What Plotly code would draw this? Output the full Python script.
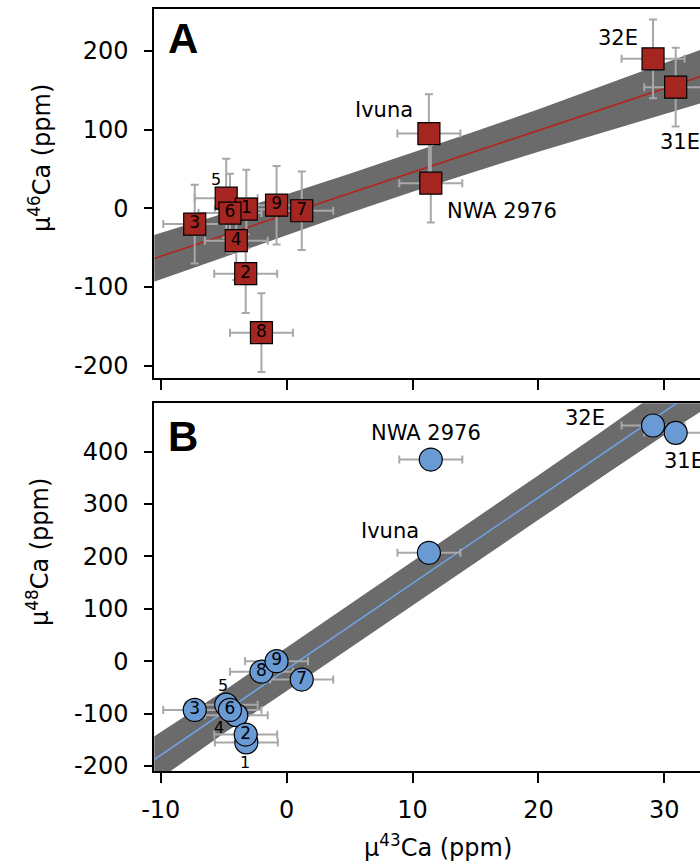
import plotly.graph_objects as go

# Samples: numbered chondrule/bulk fractions plus named meteorites
sample_ids = ["1", "2", "3", "4", "5", "6", "7", "8", "9", "Ivuna", "NWA 2976", "32E", "31E"]
mu43 = [-3.2, -3.25, -7.3, -4.0, -4.8, -4.5, 1.2, -2.0, -0.8, 11.3, 11.45, 29.1, 30.9]
mu43_err = [2.5, 2.5, 2.5, 2.5, 2.5, 2.5, 2.5, 2.5, 2.5, 2.5, 2.5, 2.5, 2.5]
mu46 = [-1, -83, -20, -41, 13, -6, -3, -158, 4, 95, 32, 190, 154]
mu46_err = [50, 50, 50, 50, 50, 50, 50, 50, 50, 50, 50, 50, 50]
mu48 = [-155, -140, -93, -103, -83, -93, -35, -20, 0, 207, 385, 450, 436]

# numbers printed inside the markers (blank where a marker is hidden behind another)
inner_A = ["1", "2", "3", "4", "", "6", "7", "8", "9", "", "", "", ""]
inner_B = ["", "2", "3", "", "", "6", "7", "8", "9", "", "", "", ""]
# drawing order (later entries sit on top)
order_A = [7, 1, 3, 2, 6, 8, 4, 0, 5, 9, 10, 11, 12]
order_B = [0, 3, 4, 1, 2, 5, 6, 7, 8, 9, 10, 11, 12]

# regression lines and their envelopes
fit_x = [-11, 34]
fitA_y = [-66.2, 173.6]
fitB_y = [-195.8, 542.2]
band_x = [-11, -5, 0, 5, 10, 15, 20, 25, 30, 34]
bandA_hi = [-36, -7, 18, 44, 71, 98, 126, 155, 184, 208]
bandA_lo = [-96, -62, -34, -6, 21, 47, 72, 96, 120, 139]
bandB_hi = [-151, -57, 26, 108, 190, 272, 355, 438, 521, 590]
bandB_lo = [-240, -138, -57, 25, 107, 189, 270, 351, 432, 494]

x_ticks = [-10, 0, 10, 20, 30]
yA_ticks = [-200, -100, 0, 100, 200]
yB_ticks = [-200, -100, 0, 100, 200, 300, 400]

FONT = "DejaVu Sans"
RED = "#A52520"
BLUE = "#6A9AD4"
BAND = "#6B6B6B"
ERR = "#A8A8A8"
W, H = 700, 863


def pick(vals, order):
    return [vals[i] for i in order]


def tick_text(vals):
    # plain hyphen for negatives
    return ["%d" % v for v in vals]


fig = go.Figure()


def add_panel(xa, ya, yvals, ylo, yhi, fit_y, line_color, fill, symbol, size, inner, order, yerr):
    fig.add_trace(go.Scatter(x=band_x, y=ylo, mode="lines", line=dict(width=0),
                             xaxis=xa, yaxis=ya, showlegend=False, hoverinfo="skip"))
    fig.add_trace(go.Scatter(x=band_x, y=yhi, mode="lines", line=dict(width=0),
                             fill="tonexty", fillcolor=BAND,
                             xaxis=xa, yaxis=ya, showlegend=False, hoverinfo="skip"))
    fig.add_trace(go.Scatter(x=fit_x, y=fit_y, mode="lines",
                             line=dict(color=line_color, width=1.6),
                             xaxis=xa, yaxis=ya, showlegend=False, hoverinfo="skip"))
    ey = None
    if yerr is not None:
        ey = dict(type="data", array=pick(yerr, order), color=ERR, thickness=2, width=4)
    fig.add_trace(go.Scatter(
        x=pick(mu43, order), y=pick(yvals, order),
        mode="markers",
        marker=dict(symbol=symbol, size=size, color=fill, line=dict(color="black", width=1.2)),
        error_x=dict(type="data", array=pick(mu43_err, order), color=ERR, thickness=2, width=4),
        error_y=ey,
        xaxis=xa, yaxis=ya, showlegend=False, cliponaxis=False))
    shown = [i for i in order if inner[i]]
    fig.add_trace(go.Scatter(
        x=pick(mu43, shown), y=pick(yvals, shown), text=pick(inner, shown),
        mode="text", textposition="middle center",
        textfont=dict(family=FONT, size=17, color="black"),
        xaxis=xa, yaxis=ya, showlegend=False, cliponaxis=False, hoverinfo="skip"))


add_panel("x", "y", mu46, bandA_lo, bandA_hi, fitA_y, "#B3261E", RED, "square", 22, inner_A, order_A, mu46_err)
add_panel("x2", "y2", mu48, bandB_lo, bandB_hi, fitB_y, "#6FA3E6", BLUE, "circle", 23, inner_B, order_B, None)

x_dom = [154.3 / W, 1.0]
yA_dom = [1 - 377.7 / H, 1 - 9.3 / H]
yB_dom = [1 - 771.0 / H, 1 - 403.3 / H]
x_rng = [-10.51, 32.83]

axis_common = dict(showgrid=False, zeroline=False, showline=True, linecolor="black",
                   linewidth=2, ticks="outside", tickcolor="black", tickwidth=2,
                   tickfont=dict(family=FONT, size=24, color="black"), automargin=False)

fig.update_layout(
    width=W, height=H, margin=dict(l=0, r=0, t=0, b=0),
    paper_bgcolor="white", plot_bgcolor="white",
    xaxis=dict(domain=x_dom, range=x_rng, anchor="y", tickvals=x_ticks, showticklabels=False,
               ticklen=10, mirror=True, **axis_common),
    yaxis=dict(domain=yA_dom, range=[-215.2, 253.0], anchor="x", tickvals=yA_ticks,
               ticktext=tick_text(yA_ticks), ticklen=8, ticklabelstandoff=11, **axis_common),
    xaxis2=dict(domain=x_dom, range=x_rng, anchor="y2", tickvals=x_ticks,
                ticktext=tick_text(x_ticks), ticklen=10, mirror=True, ticklabelstandoff=6,
                **axis_common),
    yaxis2=dict(domain=yB_dom, range=[-209.6, 492.4], anchor="x2", tickvals=yB_ticks,
                ticktext=tick_text(yB_ticks), ticklen=8, ticklabelstandoff=11, **axis_common),
)

ann = []


def label(text, xref, yref, x, y, dx, dy, xanchor, size=21):
    ann.append(dict(text=text, xref=xref, yref=yref, x=x, y=y, xshift=dx, yshift=dy,
                    xanchor=xanchor, yanchor="middle", showarrow=False,
                    font=dict(family=FONT, size=size, color="black")))


# named samples, panel A
label("Ivuna", "x", "y", mu43[9], mu46[9], -14, 24, "right")
label("NWA 2976", "x", "y", mu43[10], mu46[10], 14, -28, "left")
label("32E", "x", "y", mu43[11], mu46[11], -13, 21, "right")
label("31E", "x", "y", mu43[12], mu46[12], -18, -55, "left")
label("5", "x", "y", mu43[4], mu46[4], -10, 19, "center", 16)
# named samples, panel B
label("NWA 2976", "x2", "y2", mu43[10], mu48[10], -5, 27, "center")
label("Ivuna", "x2", "y2", mu43[9], mu48[9], -8, 22, "right")
label("32E", "x2", "y2", mu43[11], mu48[11], -46, 8, "right")
label("31E", "x2", "y2", mu43[12], mu48[12], -14, -28, "left")
label("5", "x2", "y2", mu43[4], mu48[4], -3, 19, "center", 16)
label("4", "x2", "y2", mu43[3], mu48[3], -17, -12, "center", 16)
label("1", "x2", "y2", mu43[0], mu48[0], -1, -20, "center", 16)

# panel letters
for letter, ytop in (("A", 38), ("B", 437)):
    ann.append(dict(text="<b>%s</b>" % letter, xref="paper", yref="paper",
                    x=166 / W, y=1 - ytop / H, xanchor="left", yanchor="middle",
                    showarrow=False, font=dict(family="Liberation Sans", size=42, color="black")))

# axis titles
ann.append(dict(text="\u00b5<sup>46</sup>Ca (ppm)", xref="paper", yref="paper",
                x=40 / W, y=1 - 158 / H, textangle=-90, xanchor="center", yanchor="middle",
                showarrow=False, font=dict(family=FONT, size=24, color="black")))
ann.append(dict(text="\u00b5<sup>48</sup>Ca (ppm)", xref="paper", yref="paper",
                x=38 / W, y=1 - 552 / H, textangle=-90, xanchor="center", yanchor="middle",
                showarrow=False, font=dict(family=FONT, size=24, color="black")))
ann.append(dict(text="\u00b5<sup>43</sup>Ca (ppm)", xref="paper", yref="paper",
                x=437.5 / W, y=1 - 846 / H, xanchor="center", yanchor="middle",
                showarrow=False, font=dict(family=FONT, size=24, color="black")))

fig.update_layout(annotations=ann)
fig.write_html("out.html")
